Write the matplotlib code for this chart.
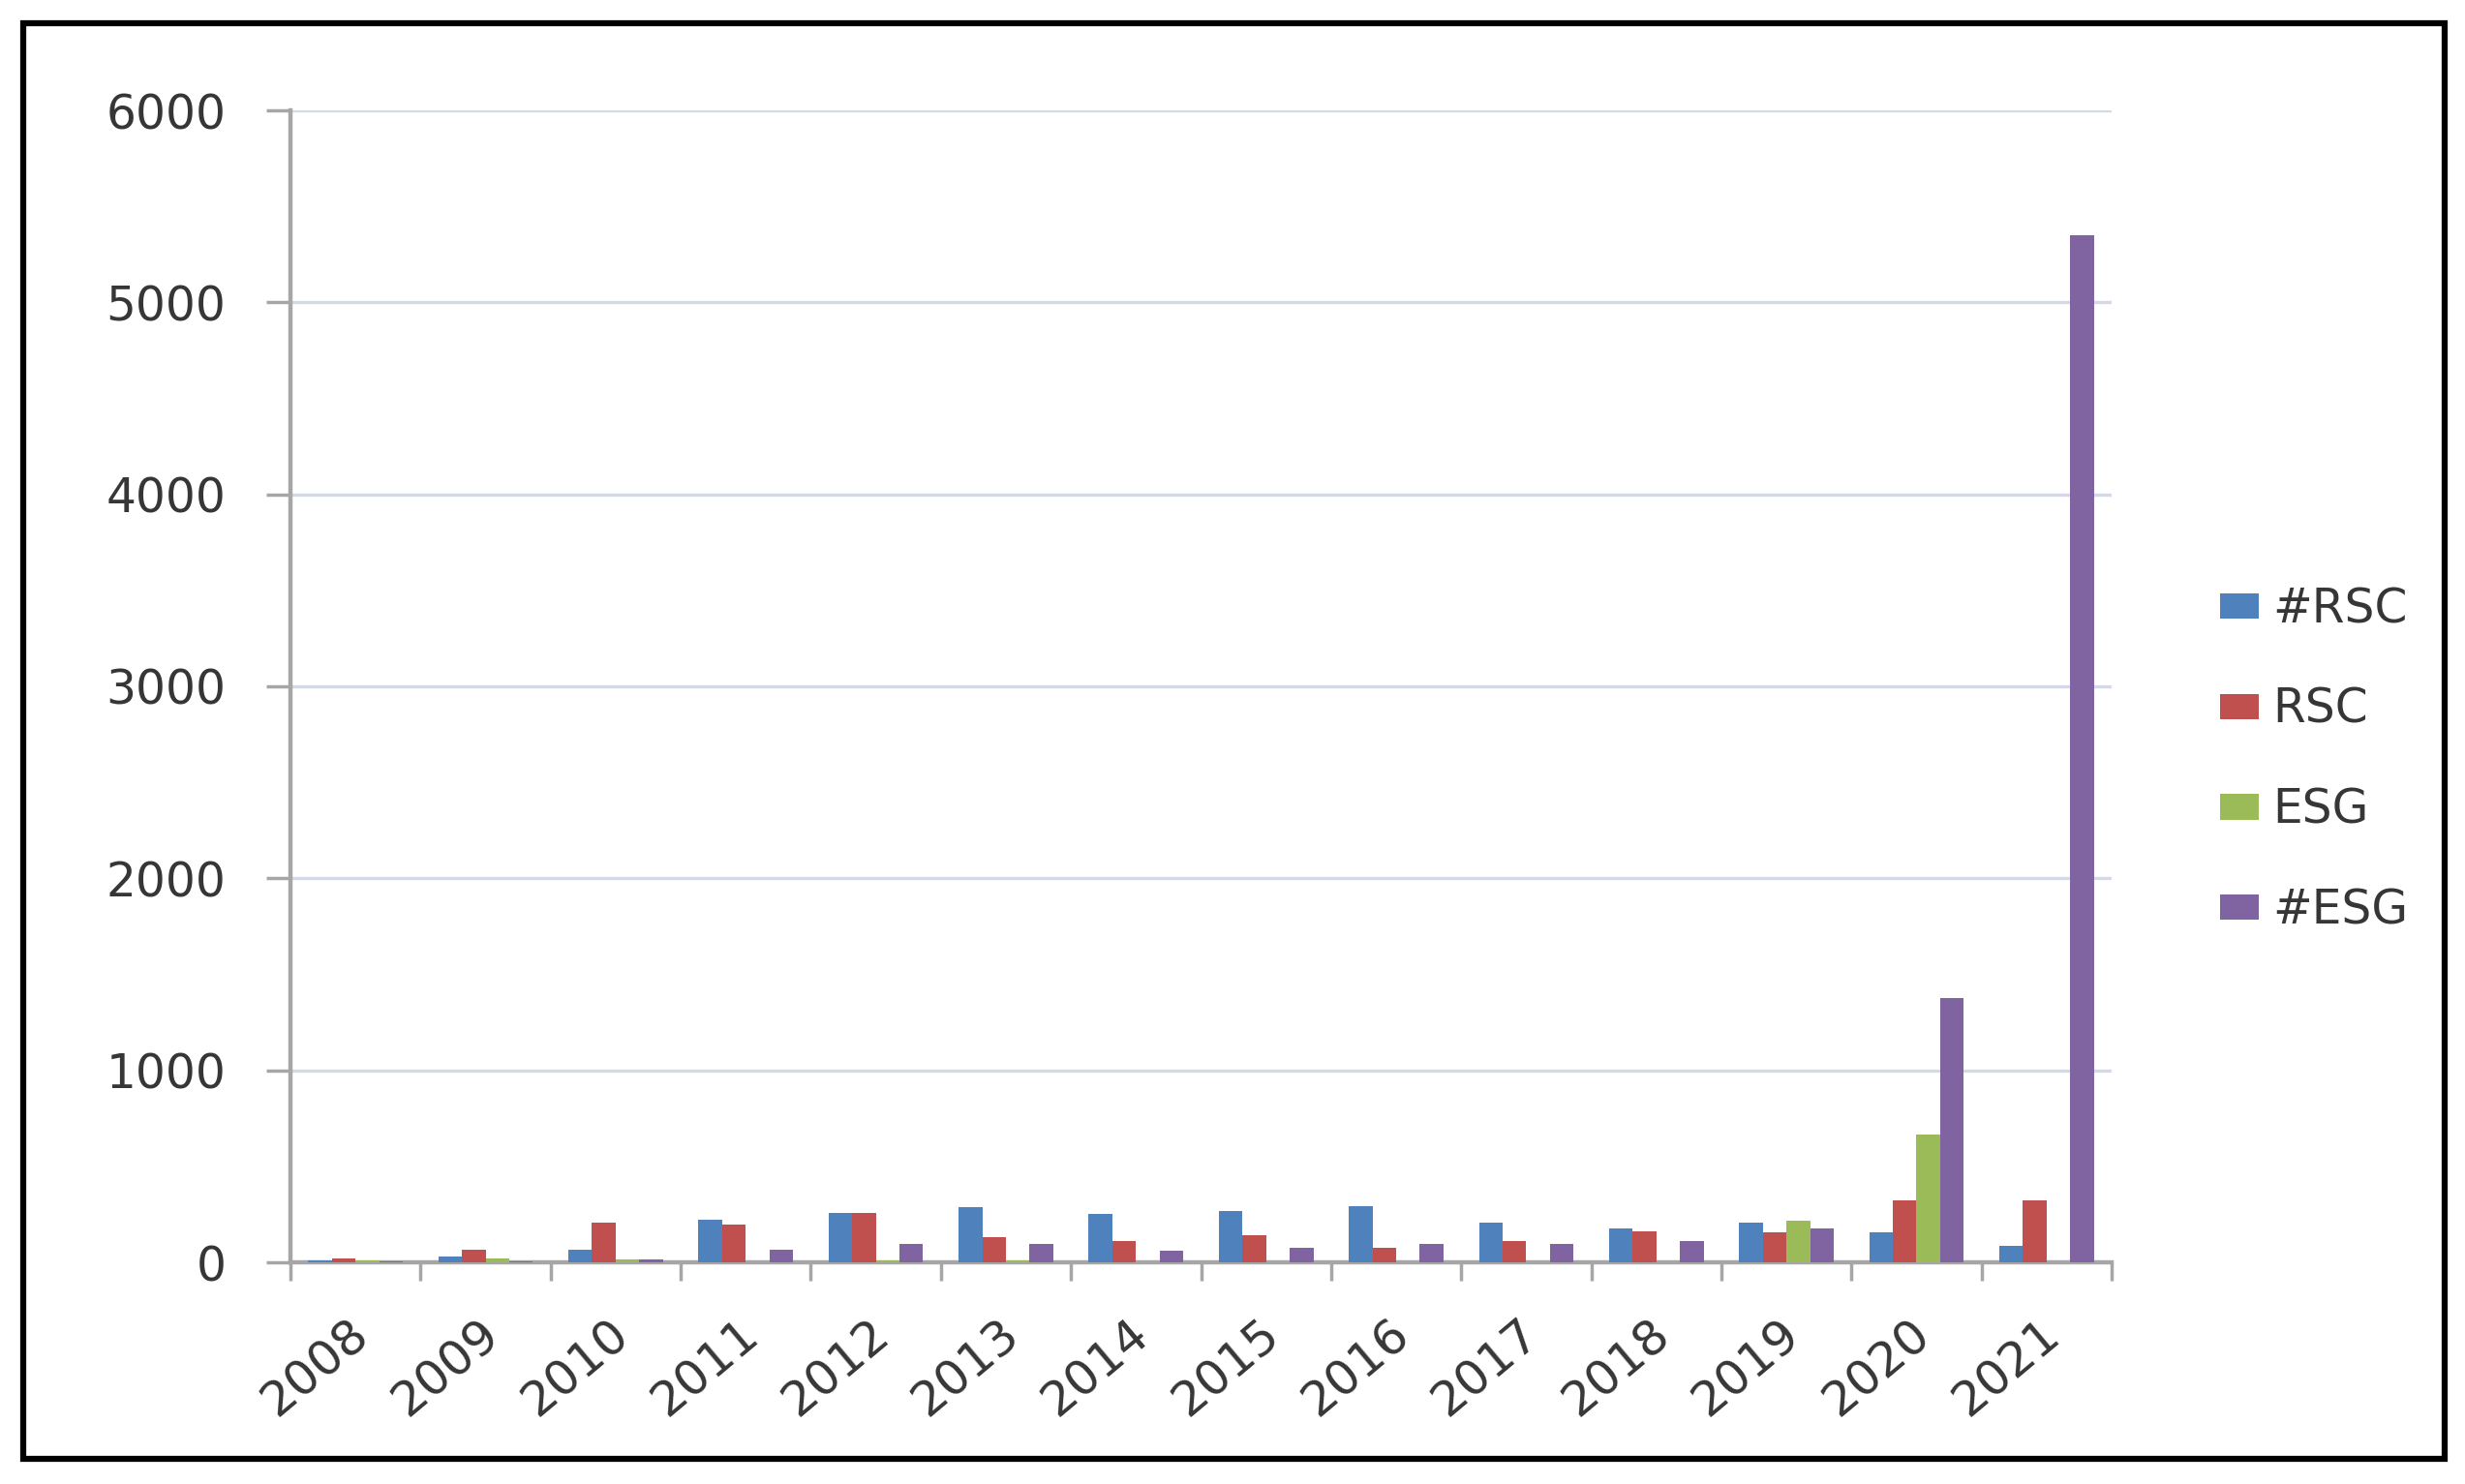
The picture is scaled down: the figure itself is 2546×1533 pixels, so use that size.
import matplotlib
matplotlib.use("Agg")
import matplotlib.pyplot as plt
import numpy as np
from matplotlib.patches import Rectangle, Patch
from matplotlib.transforms import ScaledTranslation

years = ["2008", "2009", "2010", "2011", "2012", "2013", "2014",
         "2015", "2016", "2017", "2018", "2019", "2020", "2021"]
series_names = ["#RSC", "RSC", "ESG", "#ESG"]
hash_rsc = [10, 30, 65, 220, 255, 285, 250, 265, 290, 205, 175, 205, 155, 85]
rsc = [20, 65, 205, 195, 255, 130, 110, 140, 75, 110, 160, 155, 325, 325]
esg = [10, 20, 15, 0, 10, 10, 0, 0, 0, 0, 0, 215, 665, 0]
hash_esg = [5, 5, 15, 65, 95, 95, 60, 75, 95, 95, 110, 175, 1375, 5350]
y_ticks = [0, 1000, 2000, 3000, 4000, 5000, 6000]

colors = ["#4F81BD", "#C0504D", "#9BBB59", "#8064A2"]
series = [hash_rsc, rsc, esg, hash_esg]

W, H = 2546, 1533
fig = plt.figure(figsize=(W / 100, H / 100), dpi=100)
fig.patch.set_facecolor("white")

ax = fig.add_axes([300 / W, 1 - 1304 / H, (2181 - 300) / W, (1304 - 114) / H])

n = len(years)
x = np.arange(n)
w = 1 / 5.5
for k, (vals, c) in enumerate(zip(series, colors)):
    ax.bar(x + (k - 1.5) * w, vals, width=w, color=c, linewidth=0, zorder=3)

ax.set_xlim(-0.5, n - 0.5)
ax.set_ylim(0, 6000)
ax.set_yticks(y_ticks)
ax.set_yticklabels([str(v) for v in y_ticks])
ax.yaxis.grid(True, color="#D3D9E6", linewidth=2.4, zorder=0)
ax.set_axisbelow(True)

for s in ["top", "right"]:
    ax.spines[s].set_visible(False)
for s in ["left", "bottom"]:
    ax.spines[s].set_color("#A6A6A6")
    ax.spines[s].set_linewidth(3.2)

txt_color = "#363636"
ax.tick_params(axis="y", length=18, width=2.5, color="#A6A6A6", pad=30,
               labelsize=35, labelcolor=txt_color)

ax.set_xticks(x)
ax.set_xticks(np.arange(-0.5, n, 1.0), minor=True)
ax.set_xticklabels(years, rotation=40, ha="right", va="top",
                   rotation_mode="anchor", fontsize=36, color=txt_color)
ax.tick_params(axis="x", which="major", length=0, pad=36)
ax.tick_params(axis="x", which="minor", length=14, width=2.5, color="#A6A6A6")
for lab in ax.get_xticklabels():
    lab.set_transform(lab.get_transform() + ScaledTranslation(-0.08, 0, fig.dpi_scale_trans))

handles = [Patch(facecolor=c, edgecolor="none") for c in colors]
leg = fig.legend(handles, series_names, loc="upper left",
                 bbox_to_anchor=(2293 / W, 1 - 605 / H), frameon=False,
                 fontsize=35, handlelength=0.82, handleheight=0.45,
                 handletextpad=0.3, labelspacing=1.15, borderpad=0,
                 borderaxespad=0, labelcolor=txt_color)

fig.patches.append(Rectangle((24 / W, 1 - 1507 / H), (2525 - 24) / W, (1507 - 24) / H,
                             transform=fig.transFigure, fill=False,
                             edgecolor="black", linewidth=4.5))

fig.savefig("out.png", dpi=100, facecolor="white")
